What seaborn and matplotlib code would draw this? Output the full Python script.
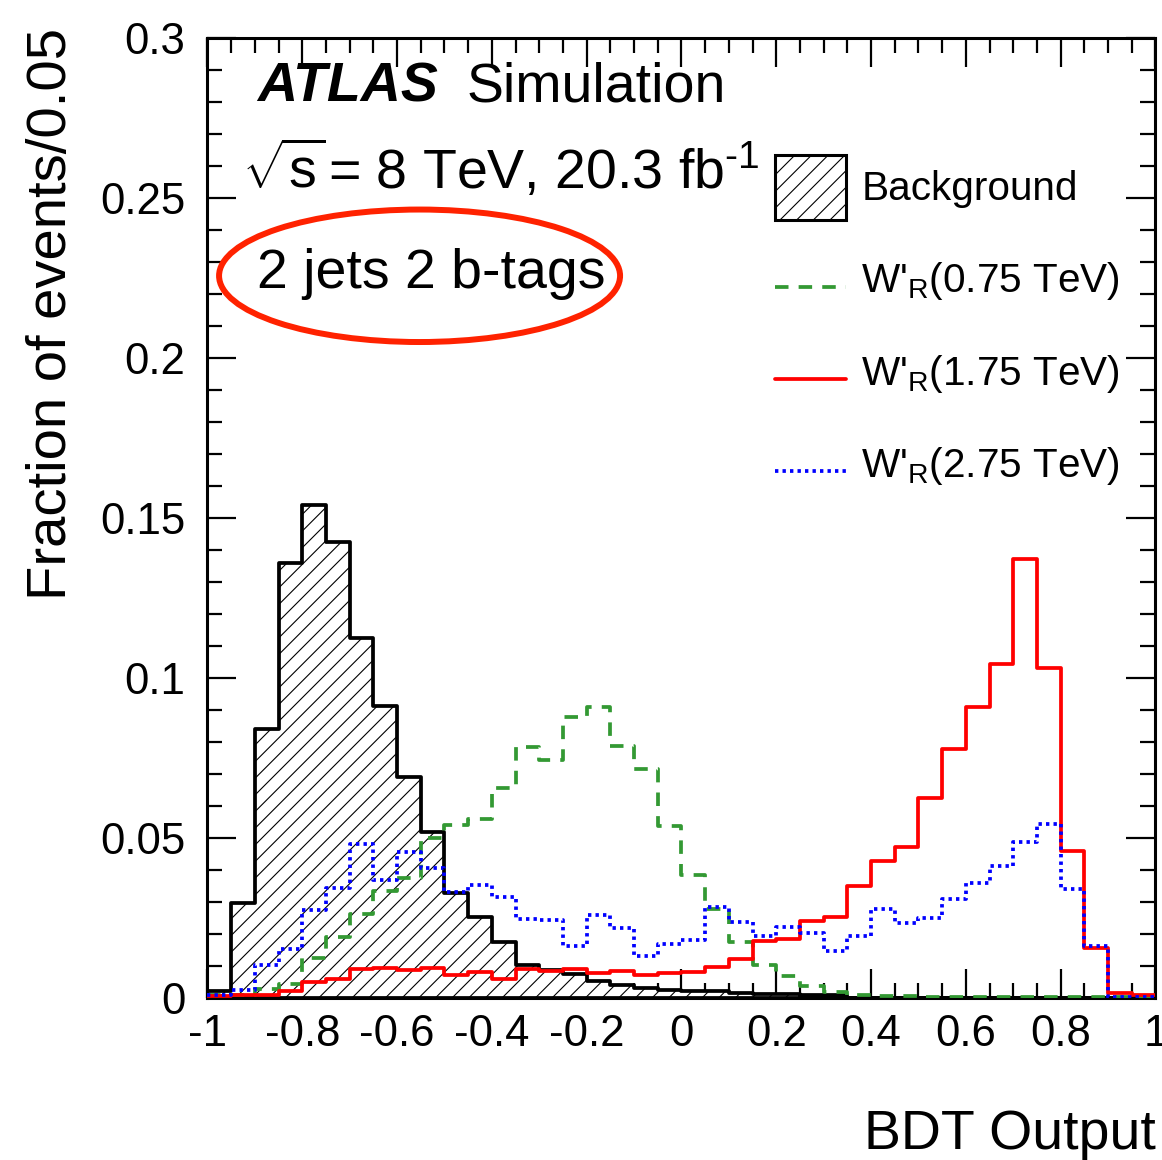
import numpy as np
import pandas as pd
import matplotlib
matplotlib.use("Agg")
import matplotlib.pyplot as plt
import seaborn as sns
from matplotlib.patches import Ellipse, Patch
from matplotlib.lines import Line2D
from matplotlib.legend_handler import HandlerLine2D
from matplotlib.ticker import MultipleLocator, FuncFormatter

# ---------------- data ----------------
bin_lo, bin_hi, n_bins = -1.0, 1.0, 40

background = [0.0020, 0.0295, 0.0840, 0.1360, 0.1540, 0.1423, 0.1125, 0.0913,
              0.0689, 0.0518, 0.0326, 0.0253, 0.0175, 0.0102, 0.0087, 0.0074,
              0.0053, 0.0040, 0.0031, 0.0024, 0.0022, 0.0020, 0.0015, 0.0013,
              0.0012, 0.0010, 0.0008, 0.0000, 0.0000, 0.0000, 0.0000, 0.0000,
              0.0000, 0.0000, 0.0000, 0.0000, 0.0000, 0.0000, 0.0000, 0.0000]

wr_075 = [0.0008, 0.0008, 0.0027, 0.0042, 0.0123, 0.0190, 0.0262, 0.0333,
          0.0375, 0.0498, 0.0541, 0.0557, 0.0654, 0.0782, 0.0743, 0.0878,
          0.0910, 0.0788, 0.0715, 0.0538, 0.0383, 0.0277, 0.0174, 0.0102,
          0.0068, 0.0038, 0.0019, 0.0008, 0.0005, 0.0004, 0.0003, 0.0003,
          0.0002, 0.0002, 0.0002, 0.0002, 0.0001, 0.0001, 0.0001, 0.0001]

wr_175 = [0.0005, 0.0008, 0.0008, 0.0021, 0.0050, 0.0060, 0.0090, 0.0092,
          0.0087, 0.0092, 0.0070, 0.0079, 0.0060, 0.0089, 0.0083, 0.0090,
          0.0078, 0.0083, 0.0071, 0.0078, 0.0081, 0.0097, 0.0122, 0.0177,
          0.0183, 0.0240, 0.0253, 0.0350, 0.0428, 0.0472, 0.0625, 0.0777,
          0.0907, 0.1042, 0.1371, 0.1031, 0.0458, 0.0156, 0.0014, 0.0010]

wr_275 = [0.0010, 0.0024, 0.0102, 0.0152, 0.0274, 0.0342, 0.0479, 0.0368,
          0.0454, 0.0404, 0.0329, 0.0352, 0.0314, 0.0245, 0.0243, 0.0162,
          0.0260, 0.0217, 0.0131, 0.0167, 0.0180, 0.0283, 0.0238, 0.0193,
          0.0222, 0.0201, 0.0146, 0.0193, 0.0276, 0.0232, 0.0250, 0.0310,
          0.0359, 0.0412, 0.0488, 0.0543, 0.0339, 0.0162, 0.0003, 0.0002]

labels = ["Background",
          r"W'$_{\mathrm{R}}$(0.75 TeV)",
          r"W'$_{\mathrm{R}}$(1.75 TeV)",
          r"W'$_{\mathrm{R}}$(2.75 TeV)"]

x_ticks = [-1, -0.8, -0.6, -0.4, -0.2, 0, 0.2, 0.4, 0.6, 0.8, 1]
y_ticks = [0, 0.05, 0.1, 0.15, 0.2, 0.25, 0.3]

edges = np.linspace(bin_lo, bin_hi, n_bins + 1)
centers = 0.5 * (edges[:-1] + edges[1:])
df = pd.DataFrame({"bdt": centers, "bkg": background, "w075": wr_075,
                   "w175": wr_175, "w275": wr_275})

# ---------------- style ----------------
sns.set_style("ticks")
plt.rcParams["font.family"] = ["Liberation Sans", "DejaVu Sans"]
plt.rcParams["mathtext.fontset"] = "custom"
plt.rcParams["mathtext.rm"] = "Liberation Sans"
plt.rcParams["mathtext.it"] = "Liberation Sans:italic"
plt.rcParams["mathtext.bf"] = "Liberation Sans:bold"
plt.rcParams["hatch.linewidth"] = 0.8
plt.rcParams["axes.linewidth"] = 2.2
for key in ["text.color", "axes.labelcolor", "xtick.color", "ytick.color",
            "axes.edgecolor"]:
    plt.rcParams[key] = "black"

fig = plt.figure(figsize=(11.62, 11.60), dpi=100)
ax = fig.add_axes([0.17857, 0.13991, 0.81583, 0.82759])

LW = 2.7
GREEN = "#339933"
RED = "#ff0000"
BLUE = "#0000ff"
hist_kw = dict(bins=n_bins, binrange=(bin_lo, bin_hi), element="step", ax=ax)

sns.histplot(data=df, x="bdt", weights="bkg", fill=True, facecolor="white",
             edgecolor="black", hatch="//", linewidth=LW, alpha=1.0,
             zorder=2, **hist_kw)
sns.histplot(data=df, x="bdt", weights="w075", fill=False, color=GREEN,
             linewidth=LW, linestyle=(0, (3.6, 2.7)), zorder=3, **hist_kw)
sns.histplot(data=df, x="bdt", weights="w175", fill=False, color=RED,
             linewidth=LW, zorder=4, **hist_kw)
sns.histplot(data=df, x="bdt", weights="w275", fill=False, color=BLUE,
             linewidth=LW, linestyle=(0, (0.9, 1.1)), zorder=5, **hist_kw)

ax.set_xlim(-1, 1)
ax.set_ylim(0, 0.3)

# ticks
ax.xaxis.set_minor_locator(MultipleLocator(0.05))
ax.yaxis.set_minor_locator(MultipleLocator(0.01))
ax.set_xticks(x_ticks)
ax.set_yticks(y_ticks)
fmt = FuncFormatter(lambda v, p: ("%g" % round(v, 3)) if abs(v) > 1e-9 else "0")
ax.xaxis.set_major_formatter(fmt)
ax.yaxis.set_major_formatter(fmt)
ax.tick_params(which="both", direction="in", top=True, right=True,
               width=1.6, colors="black")
ax.tick_params(which="major", length=20.9)
ax.tick_params(which="minor", length=10.8)
ax.tick_params(axis="x", which="major", labelsize=31.5, pad=11.5)
ax.tick_params(axis="y", which="major", labelsize=31.5, pad=16)
for s in ax.spines.values():
    s.set_linewidth(2.2)
    s.set_color("black")

# axis labels
ax.set_xlabel("BDT Output", fontsize=40, loc="right")
ax.xaxis.set_label_coords(1.0, -0.1155)
ax.set_ylabel("Fraction of events/0.05", fontsize=40.5, loc="top")
ax.yaxis.set_label_coords(-0.1368, 1.0101)

# annotation texts
TXT = 40
ax.text(0.0522, 0.9340, "ATLAS", transform=ax.transAxes, fontsize=TXT,
        fontweight="bold", fontstyle="italic", va="baseline", ha="left")
ax.text(0.2735, 0.9340, "Simulation", transform=ax.transAxes, fontsize=TXT,
        va="baseline", ha="left")
ax.text(0.0360, 0.8431, r"$\sqrt{\mathrm{s}}$",
        transform=ax.transAxes, fontsize=TXT, va="baseline", ha="left")
ax.text(0.1270, 0.8431, r"= 8 TeV, 20.3 $\mathrm{fb}^{\text{-1}}$",
        transform=ax.transAxes, fontsize=TXT, va="baseline", ha="left")
ax.text(0.0522, 0.7390, "2 jets 2 b-tags", transform=ax.transAxes,
        fontsize=TXT, va="baseline", ha="left")
ax.add_patch(Ellipse((0.2237, 0.752), 0.423, 0.138, transform=ax.transAxes,
                     fill=False, edgecolor="#ff2200", linewidth=4.3,
                     zorder=6, clip_on=False))

# legend
class LowLine(HandlerLine2D):
    def create_artists(self, legend, orig_handle, xdescent, ydescent,
                       width, height, fontsize, trans):
        arts = super().create_artists(legend, orig_handle, xdescent, ydescent,
                                      width, height, fontsize, trans)
        for a in arts:
            a.set_ydata(np.asarray(a.get_ydata(), dtype=float) - 12.5)
        return arts

handles = [Patch(facecolor="white", edgecolor="black", hatch="//", linewidth=2.2),
           Line2D([], [], color=GREEN, linewidth=LW, linestyle=(0, (3.6, 2.7))),
           Line2D([], [], color=RED, linewidth=LW),
           Line2D([], [], color=BLUE, linewidth=LW, linestyle=(0, (0.9, 1.1)))]
leg = ax.legend(handles, labels, loc="upper left",
                bbox_to_anchor=(0.5986, 0.8778), frameon=False, fontsize=29.2,
                borderpad=0, borderaxespad=0, handlelength=1.76,
                handleheight=2.1, labelspacing=0.66, handletextpad=0.37,
                handler_map={Line2D: LowLine()})

fig.savefig("out.png", dpi=100)
